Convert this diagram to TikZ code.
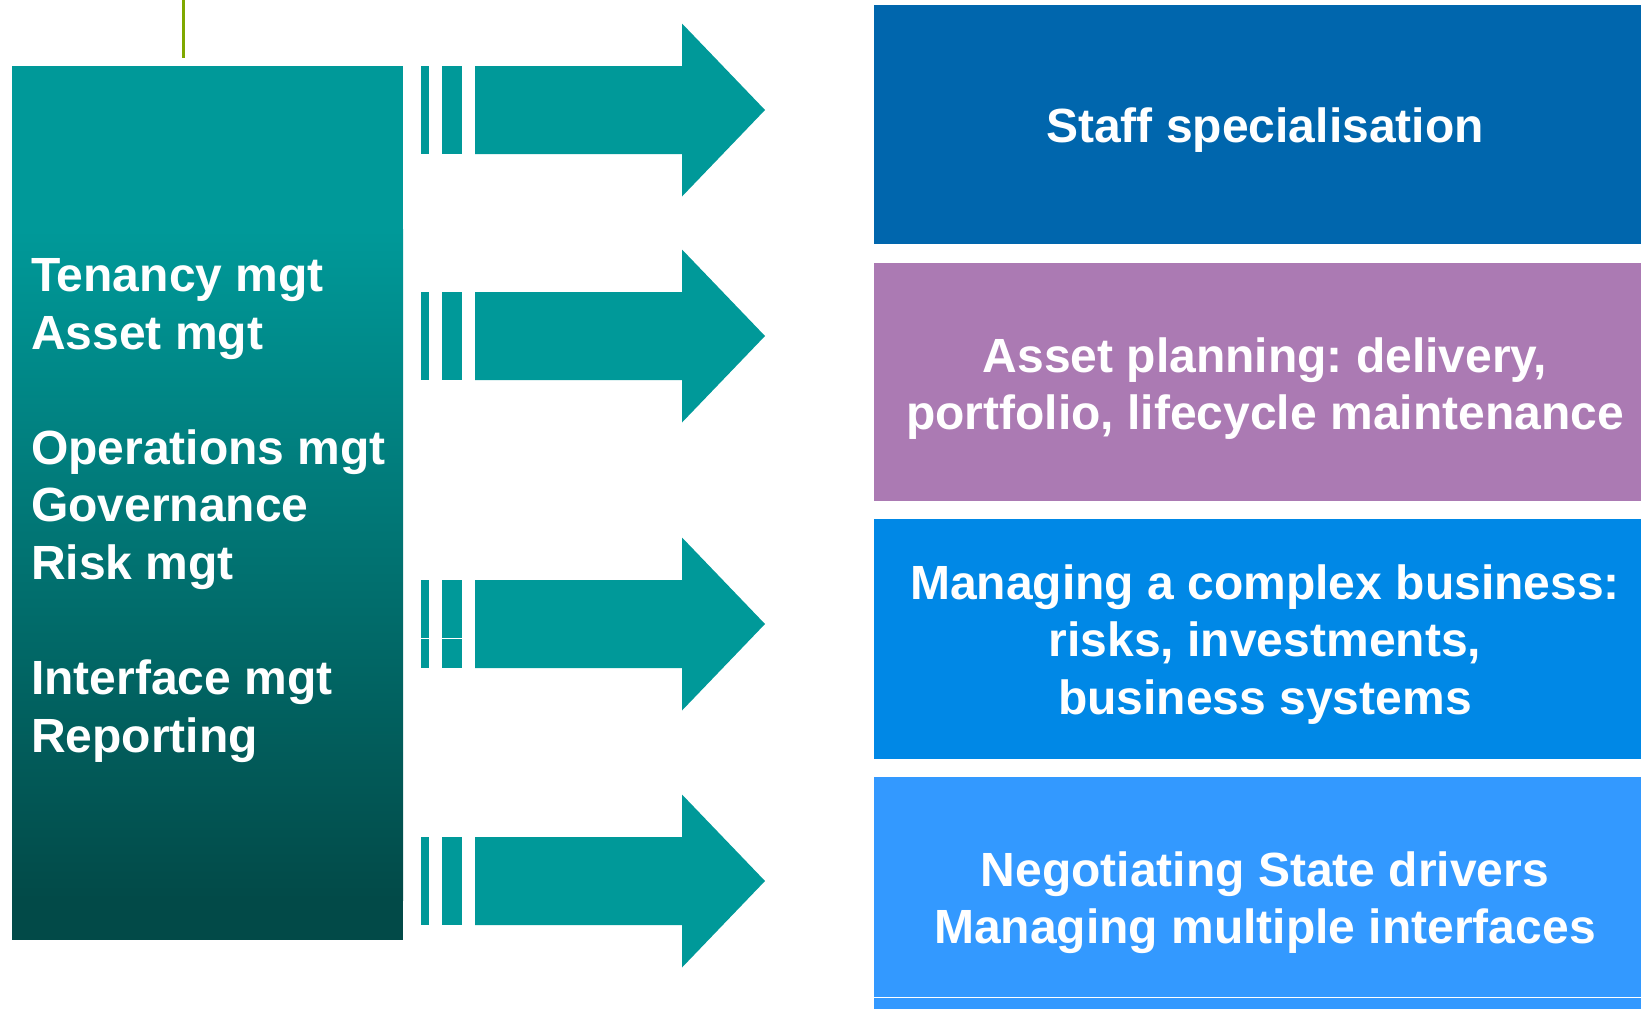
\documentclass[tikz,border=0pt]{standalone}
\usepackage{fontspec}
\setmainfont{Liberation Sans}
\frenchspacing
\definecolor{tealA}{HTML}{009999}
\definecolor{tealD}{HTML}{024A48}
\definecolor{boxA}{HTML}{0066AD}
\definecolor{boxB}{HTML}{AB7AB3}
\definecolor{boxC}{HTML}{0088E6}
\definecolor{boxD}{HTML}{3399FF}
\definecolor{lgreen}{HTML}{7FA800}
\begin{document}
\begin{tikzpicture}[x=1pt,y=-1pt,
  lbl/.style={text=white, font=\bfseries\fontsize{48}{57.6}\selectfont\frenchspacing, inner sep=0pt, align=center},
  blockarrow/.pic={
    \fill[tealA] (421,-44) rectangle (429,44);
    \fill[tealA] (442,-44) rectangle (461.7,44);
    \fill[tealA] (475,-44) -- (682,-44) -- (682,-86.5) -- (765,0) -- (682,86.5) -- (682,44) -- (475,44) -- cycle;
  }]
\useasboundingbox (0,0) rectangle (1641,1009);
% green line
\draw[lgreen, line width=3pt] (183.5,0) -- (183.5,58);
% left box
\fill[tealA] (12,66) rectangle (403,230);
\shade[top color=tealA, bottom color=tealD] (12,229.5) rectangle (403,900);
\fill[tealD] (12,899.5) rectangle (403,940);
\node[lbl, align=left, anchor=west] (tasks) at (31,510.5)
  {Tenancy mgt\\Asset mgt\\[57.6pt]Operations mgt\\Governance\\Risk mgt\\[57.6pt]Interface mgt\\Reporting};
% arrows
\pic at (0,110) {blockarrow};
\pic at (0,336) {blockarrow};
\pic at (0,624) {blockarrow};
\pic at (0,881) {blockarrow};
\draw[white, line width=1pt] (420,638) -- (463,638);
% right boxes
\fill[boxA] (874,5) rectangle (1641,244);
\fill[boxB] (874,263) rectangle (1641,501);
\fill[boxC] (874,519) rectangle (1641,759);
\fill[boxD] (874,777) rectangle (1641,1009);
\draw[white, line width=1.2pt] (874,997.3) -- (1641,997.3);
\node[lbl] (r1) at (1265,130.5) {Staff specialisation};
\node[lbl] (r2) at (1265,388.5) {Asset planning: delivery,\\portfolio, lifecycle maintenance};
\node[lbl] (r3) at (1265,644.5) {Managing a complex business:\\risks, investments,\\business systems};
\node[lbl] (r4) at (1265,902.5) {Negotiating State drivers\\Managing multiple interfaces};
\end{tikzpicture}
\end{document}
